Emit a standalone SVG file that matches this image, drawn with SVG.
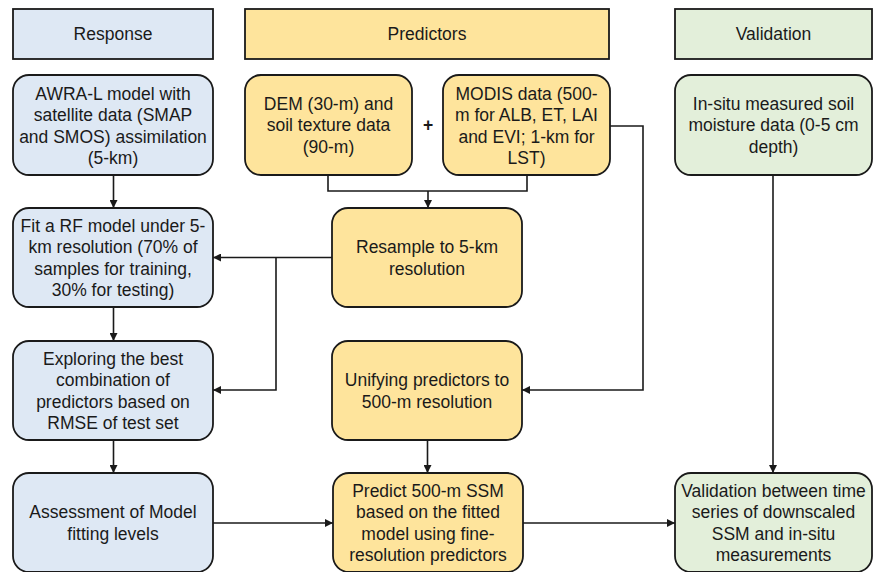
<svg xmlns="http://www.w3.org/2000/svg" width="873" height="572" viewBox="0 0 873 572">
<defs>
<style>
.b{fill:#dee8f4;stroke:#1a1a1a;stroke-width:1.8}
.y{fill:#fee49c;stroke:#1a1a1a;stroke-width:1.8}
.g{fill:#e3efda;stroke:#1a1a1a;stroke-width:1.8}
text{font-family:"Liberation Sans",Arial,sans-serif;font-size:17.5px;fill:#1a1a1a;text-anchor:middle}
.c{fill:none;stroke:#1a1a1a;stroke-width:1.6}
</style>
<marker id="ah" viewBox="0 0 10 10" refX="10" refY="5" markerWidth="8" markerHeight="8" markerUnits="userSpaceOnUse" orient="auto">
<path d="M0,0 L10,5 L0,10 Z" fill="#1a1a1a"/>
</marker>
</defs>
<rect width="873" height="572" fill="#ffffff"/>

<g id="hdr-response"><rect class="b" x="13" y="9" width="200" height="50"/><text x="113" y="40">Response</text></g>
<g id="hdr-predictors"><rect class="y" x="245" y="9" width="364" height="50"/><text x="427" y="40">Predictors</text></g>
<g id="hdr-validation"><rect class="g" x="675" y="9" width="197" height="50"/><text x="773.5" y="40">Validation</text></g>

<g id="awra"><rect class="b" x="13" y="75" width="200" height="100" rx="16"/>
<text x="113" y="99.5">AWRA-L model with</text><text x="113" y="121">satellite data (SMAP</text><text x="113" y="142.5">and SMOS) assimilation</text><text x="113" y="164">(5-km)</text></g>

<g id="dem"><rect class="y" x="245" y="75" width="167" height="100" rx="16"/>
<text x="328.5" y="109.5">DEM (30-m) and</text><text x="328.5" y="131">soil texture data</text><text x="328.5" y="152.5">(90-m)</text></g>

<g id="plus"><text x="428" y="131" style="font-weight:bold">+</text></g>

<g id="modis"><rect class="y" x="443" y="75" width="167" height="100" rx="16"/>
<text x="526.5" y="99.5">MODIS data (500-</text><text x="526.5" y="121">m for ALB, ET, LAI</text><text x="526.5" y="142.5">and EVI; 1-km for</text><text x="526.5" y="164">LST)</text></g>

<g id="insitu"><rect class="g" x="675" y="75" width="197" height="100" rx="16"/>
<text x="773.5" y="109.5">In-situ measured soil</text><text x="773.5" y="131">moisture data (0-5 cm</text><text x="773.5" y="152.5">depth)</text></g>

<g id="fit"><rect class="b" x="13" y="208" width="200" height="99" rx="16"/>
<text x="113" y="231.5">Fit a RF model under 5-</text><text x="113" y="253">km resolution (70% of</text><text x="113" y="274.5">samples for training,</text><text x="113" y="296">30% for testing)</text></g>

<g id="resample"><rect class="y" x="332" y="208" width="190" height="99" rx="16"/>
<text x="427" y="253">Resample to 5-km</text><text x="427" y="274.5">resolution</text></g>

<g id="exploring"><rect class="b" x="13" y="341" width="200" height="99" rx="16"/>
<text x="113" y="364.5">Exploring the best</text><text x="113" y="386">combination of</text><text x="113" y="407.5">predictors based on</text><text x="113" y="429">RMSE of test set</text></g>

<g id="unifying"><rect class="y" x="332" y="341" width="190" height="99" rx="16"/>
<text x="427" y="386">Unifying predictors to</text><text x="427" y="407.5">500-m resolution</text></g>

<g id="assessment"><rect class="b" x="13" y="473" width="200" height="99" rx="16"/>
<text x="113" y="518">Assessment of Model</text><text x="113" y="539.5">fitting levels</text></g>

<g id="predict"><rect class="y" x="333" y="473" width="190" height="99" rx="16"/>
<text x="428" y="496.5">Predict 500-m SSM</text><text x="428" y="518">based on the fitted</text><text x="428" y="539.5">model using fine-</text><text x="428" y="561">resolution predictors</text></g>

<g id="validation"><rect class="g" x="675" y="473" width="197" height="99" rx="16"/>
<text x="773.5" y="496.5">Validation between time</text><text x="773.5" y="518">series of downscaled</text><text x="773.5" y="539.5">SSM and in-situ</text><text x="773.5" y="561">measurements</text></g>

<g id="connectors">
<path class="c" d="M113.5,175 V208" marker-end="url(#ah)"/>
<path class="c" d="M113.5,307 V341" marker-end="url(#ah)"/>
<path class="c" d="M113.5,440 V473" marker-end="url(#ah)"/>
<path class="c" d="M328,175 V191 H527 V175"/>
<path class="c" d="M428,191 V208" marker-end="url(#ah)"/>
<path class="c" d="M332,257.5 H213" marker-end="url(#ah)"/>
<path class="c" d="M276,257.5 V390 H213" marker-end="url(#ah)"/>
<path class="c" d="M610,126 H643 V390 H522" marker-end="url(#ah)"/>
<path class="c" d="M427.5,440 V473" marker-end="url(#ah)"/>
<path class="c" d="M773,175 V473" marker-end="url(#ah)"/>
<path class="c" d="M213,523 H333" marker-end="url(#ah)"/>
<path class="c" d="M523,523 H675" marker-end="url(#ah)"/>
</g>
</svg>
